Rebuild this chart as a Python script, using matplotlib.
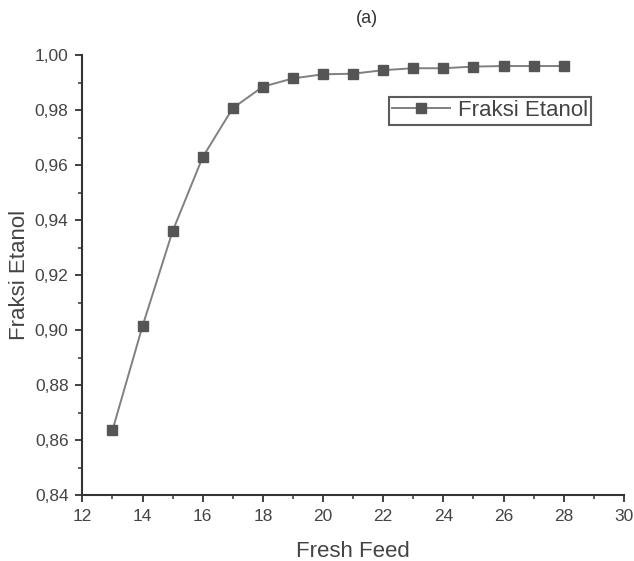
import matplotlib
matplotlib.use("Agg")
import matplotlib.pyplot as plt
from matplotlib.ticker import MultipleLocator, FuncFormatter

plt.rcParams['font.family'] = ['Liberation Sans', 'DejaVu Sans']

# data
fresh_feed = [13, 14, 15, 16, 17, 18, 19, 20, 21, 22, 23, 24, 25, 26, 27, 28]
fraksi_etanol = [0.8636, 0.9015, 0.9360, 0.9629, 0.9807, 0.9885, 0.9915, 0.9930,
                 0.9932, 0.9945, 0.9952, 0.9952, 0.9958, 0.9960, 0.9960, 0.9960]
series_label = "Fraksi Etanol"

fig = plt.figure(figsize=(6.34, 5.61), dpi=100)
ax = fig.add_axes([0.130, 0.1176, 0.854, 0.7843])

ax.plot(fresh_feed, fraksi_etanol, color='#808080', lw=1.4,
        marker='s', markersize=7, markerfacecolor='#555555',
        markeredgecolor='#555555', label=series_label)

ax.set_xlim(12, 30)
ax.set_ylim(0.84, 1.00)
ax.xaxis.set_major_locator(MultipleLocator(2))
ax.xaxis.set_minor_locator(MultipleLocator(1))
ax.yaxis.set_major_locator(MultipleLocator(0.02))
ax.yaxis.set_minor_locator(MultipleLocator(0.01))
ax.yaxis.set_major_formatter(FuncFormatter(lambda v, p: f"{v:.2f}".replace('.', ',')))

for side in ['top', 'right']:
    ax.spines[side].set_visible(False)
for side in ['left', 'bottom']:
    ax.spines[side].set_linewidth(1.5)
    ax.spines[side].set_color('#333333')

ax.tick_params(which='major', direction='out', length=5, width=1.3,
               colors='#333333', labelsize=12.5, labelcolor='#444444', pad=5)
ax.tick_params(which='minor', direction='out', length=3, width=1.1, colors='#333333')

ax.set_xlabel("Fresh Feed", fontsize=16, color='#444444', labelpad=12)
ax.set_ylabel("Fraksi Etanol", fontsize=16, color='#444444')
ax.yaxis.set_label_coords(-0.097, 0.5)

fig.text(0.579, 0.967, "(a)", ha='center', va='center', fontsize=13, color='#333333')

leg = ax.legend(loc='upper left', bbox_to_anchor=(0.566, 0.905), fontsize=16,
                frameon=True, fancybox=False, handlelength=2.6,
                borderpad=0.15, handletextpad=0.35, borderaxespad=0)
leg.get_frame().set_edgecolor('#333333')
leg.get_frame().set_linewidth(1.5)
for t in leg.get_texts():
    t.set_color('#444444')

fig.savefig("out.png", dpi=100)
